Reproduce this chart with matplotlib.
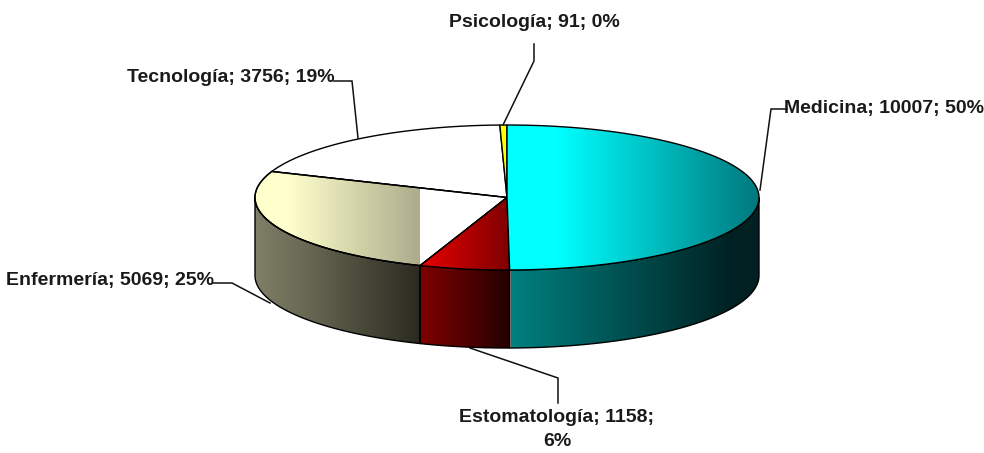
import numpy as np
import matplotlib
matplotlib.use("Agg")
import matplotlib.pyplot as plt
from matplotlib.patches import Polygon

categories = ["Medicina", "Estomatología", "Enfermería", "Tecnología", "Psicología"]
values = [10007, 1158, 5069, 3756, 91]
percents = [50, 6, 25, 19, 0]

CX, CY, RX, RY, DEPTH = 507.0, 197.5, 252.0, 72.5, 78.0
plt.rcParams['font.family'] = ['Liberation Sans Narrow', 'Liberation Sans', 'DejaVu Sans']

fig = plt.figure(figsize=(9.84, 4.53), dpi=100)
ax = fig.add_axes([0, 0, 1, 1])
ax.axis('off')


def pts(t0, t1, dy=0.0):
    t = np.radians(np.linspace(t0, t1, max(int(abs(t1 - t0) * 2), 3)))
    return np.c_[CX + RX * np.sin(t), CY - RY * np.cos(t) + dy]


def grad(poly_xy, x0, x1, stops, base=None, z=1):
    """Fill polygon with a horizontal gradient; stops = [(frac, rgb), ...]."""
    if base is not None:
        ax.add_patch(Polygon(poly_xy, closed=True, fc=base, ec='none', zorder=z))
    frac = np.linspace(0, 1, 256)
    fr = [s[0] for s in stops]
    arr = np.stack([np.interp(frac, fr, [s[1][c] for s in stops]) for c in range(3)], axis=-1)
    im = ax.imshow(arr[None, :, :] / 255.0, extent=[x0, x1, 453, 0], aspect='auto',
                   zorder=z + 0.1, interpolation='bilinear')
    clip = Polygon(poly_xy, closed=True, transform=ax.transData, fc='none', ec='none')
    ax.add_patch(clip)
    im.set_clip_path(clip)
    ax.add_patch(Polygon(poly_xy, closed=True, fc='none', ec='black', lw=1.0, zorder=z + 0.2))


total = sum(values)
edges = np.cumsum([0] + values) / total * 360.0
T = {c: (edges[i], edges[i + 1]) for i, c in enumerate(categories)}


def top(c):
    t0, t1 = T[c]
    return np.vstack([[CX, CY], pts(t0, t1)])


def side(t0, t1):
    return np.vstack([pts(t0, t1), pts(t0, t1, DEPTH)[::-1]])


# Side walls
m0, m1 = T["Medicina"]
grad(side(90, m1), 511, 759, [(0, (0, 128, 128)), (0.5, (0, 75, 75)), (0.9, (0, 32, 34)), (1, (0, 32, 34))], z=2)
e0, e1 = T["Estomatología"]
grad(side(e0, e1), 420, 511, [(0, (128, 0, 0)), (1, (35, 0, 0))], z=2)
n0, n1 = T["Enfermería"]
grad(side(n0, 270), 255, 420, [(0, (128, 128, 104)), (0.3, (105, 105, 84)), (1, (42, 42, 32))], z=2)

# Top faces
t0, t1 = T["Tecnología"]
ax.add_patch(Polygon(top("Tecnología"), closed=True, fc='white', ec='black', lw=1.0, zorder=3))
grad(top("Enfermería"), 255, 420, [(0, (255, 255, 204)), (0.2, (255, 255, 204)), (1, (172, 172, 140))],
     base='white', z=3)
ax.add_patch(Polygon(np.array(top("Enfermería")), closed=True, fc='none', ec='black', lw=1.0, zorder=3.5))
grad(top("Estomatología"), 420, 511, [(0, (232, 0, 0)), (1, (125, 0, 0))], z=4)
ax.add_patch(Polygon(top("Psicología"), closed=True, fc='#ffff00', ec='black', lw=1.0, zorder=4))
grad(top("Medicina"), 507, 759, [(0, (0, 255, 255)), (0.2, (0, 255, 255)), (1, (0, 120, 125))], z=5)

# Leader lines
leaders = [
    ([534, 534, 503], [44, 61, 125]),
    ([334, 352, 358], [81, 81, 138]),
    ([787, 771, 760], [109, 109, 190]),
    ([213, 232, 270], [283, 283, 303]),
    ([470, 558, 558], [348, 378, 403]),
]
for xs, ys in leaders:
    ax.plot(xs, ys, color='#111111', lw=1.1, zorder=6, solid_joinstyle='miter')

# Labels
lab = {c: f"{c}; {v}; {p}%" for c, v, p in zip(categories, values, percents)}
tk = dict(fontsize=14, fontweight='bold', color='#1a1a1a', va='center', zorder=7)
ax.text(534, 22.5, lab["Psicología"], ha='center', **tk)
ax.text(231, 77.5, lab["Tecnología"], ha='center', **tk)
ax.text(884.5, 108, lab["Medicina"], ha='center', **tk)
ax.text(110.5, 281, lab["Enfermería"], ha='center', **tk)
l1, l2 = lab["Estomatología"].rsplit(" ", 1)
ax.text(556.5, 417, l1, ha='center', **tk)
ax.text(557, 441, l2, ha='center', **tk)

ax.set_xlim(0, 984)
ax.set_ylim(453, 0)
fig.savefig("out.png", dpi=100, facecolor='white')
